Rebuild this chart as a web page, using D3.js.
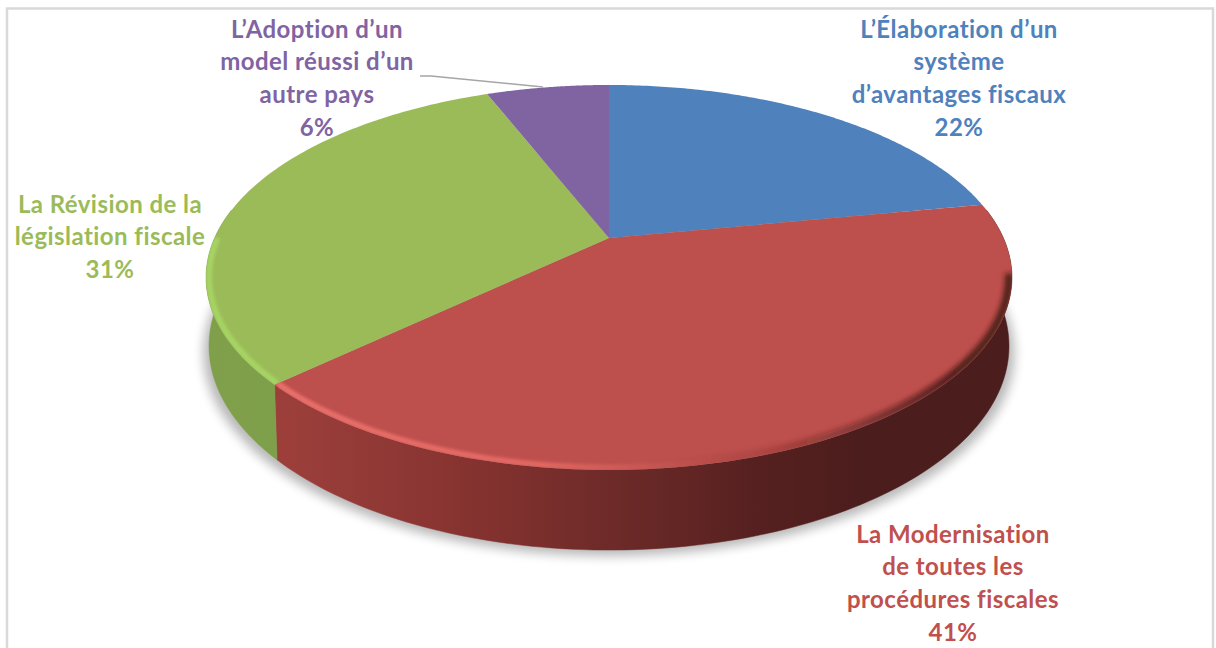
<!DOCTYPE html>
<html>
<head>
<meta charset="utf-8">
<script src="https://cdn.jsdelivr.net/npm/d3@7"></script>
<style>
html,body{margin:0;padding:0;background:#fff;overflow:hidden}
svg{display:block}
text{font-family:Lato,"Open Sans",sans-serif;font-weight:700;font-size:24px;letter-spacing:.45px;font-variant-ligatures:none;text-anchor:middle}
</style>
</head>
<body>
<svg id="chart" width="1216" height="648"></svg>
<script>
// Survey shares, clockwise from twelve o'clock
const categories = [
  ["L’Élaboration d’un", "système", "d’avantages fiscaux"],
  ["La Modernisation", "de toutes les", "procédures fiscales"],
  ["La Révision de la", "législation fiscale"],
  ["L’Adoption d’un", "model réussi d’un", "autre pays"]
];
const values = [22, 41, 31, 6];
const topColors = ["#4f81bd", "#bd4f4c", "#9bbb59", "#8064a2"];
const labelColors = ["#4f81bd", "#c0504d", "#9bbb59", "#8064a2"];
const labelCenters = [[959, 37.5], [953, 542.5], [110, 212.5], [317, 37.5]];

const svg = d3.select("#chart");
const defs = svg.append("defs");
const blur = (id, sd) => defs.append("filter").attr("id", id)
  .attr("x", "-10%").attr("y", "-10%").attr("width", "120%").attr("height", "120%")
  .append("feGaussianBlur").attr("stdDeviation", sd);
blur("soft", 1.6);
blur("softer", 2.6);
blur("castShadow", 5.5);

function hGradient(id, stops) {
  const g = defs.append("linearGradient").attr("id", id).attr("gradientUnits", "userSpaceOnUse")
    .attr("x1", 205).attr("x2", 1012).attr("y1", 0).attr("y2", 0);
  stops.forEach(([x, c, o]) => g.append("stop")
    .attr("offset", (x - 205) / 807).attr("stop-color", c).attr("stop-opacity", o === undefined ? 1 : o));
}
hGradient("wallRed", [[287, "#9c3f3b"], [480, "#84322f"], [620, "#6c2a28"], [760, "#562020"], [860, "#4b1d1c"], [1012, "#4b1d1c"]]);
hGradient("wallGreen", [[205, "#809f4c"], [293, "#7ea049"]]);
hGradient("bevelRedLit", [[287, "#e96f6a"], [540, "#e66a65", 0.9], [680, "#d0605c", 0.3], [760, "#bd4f4c", 0], [1012, "#bd4f4c", 0]]);
hGradient("bevelRedDark", [[640, "#3a1412", 0], [760, "#3a1412", 0.12], [860, "#3a1412", 0.45], [960, "#3a1412", 0.85], [1012, "#3a1412", 0.85]]);
hGradient("bevelGreen", [[205, "#a6d463"], [293, "#a6d463"]]);

// Perspective projection of the unit disc; t runs clockwise from the back of the pie
const cx = 609, tilt = -0.205;
const project = (radius, yMid, ySlope) => t => {
  const u = Math.sin(t), v = -Math.cos(t), w = 1 + tilt * v;
  return [cx + radius * u / w, (yMid + ySlope * v) / w];
};
const rim = project(394.4, 238, 135.6);
const base = project(391.5, 304.2, 133.1);
const rimInner = project(391.5, 238, 133.6);

const arcPoints = (fn, a, b) => d3.range(0, 121).map(i => fn(a + (b - a) * i / 120));
const line = d3.line();
const pie = d3.pie().sort(null).value(d => d);
const slices = pie(values);

// Soft cast shadow under the disc
svg.append("path")
  .attr("d", line(arcPoints(project(397, 311.4, 130.6), 0, 2 * Math.PI)) + "Z")
  .attr("fill", "#000").attr("opacity", 0.28).attr("filter", "url(#castShadow)");

// Outer walls: only the front part of the disc shows them
const wallFill = ["#4b1d1c", "url(#wallRed)", "url(#wallGreen)", "#6a5285"];
slices.forEach((s, i) => {
  const from = Math.max(s.startAngle, Math.PI * 0.45);
  const to = Math.min(s.endAngle, Math.PI * 1.55);
  if (to <= from) return;
  const pts = arcPoints(rim, from, to).concat(arcPoints(base, from, to).reverse());
  svg.append("path").attr("d", line(pts) + "Z").attr("fill", wallFill[i])
    .attr("stroke", wallFill[i]).attr("stroke-width", 0.5);
});

// Top face, with a clip per slice so the bevel stays inside its wedge
slices.forEach((s, i) => {
  const pts = [[cx, 238]].concat(arcPoints(rim, s.startAngle, s.endAngle));
  const d = line(pts) + "Z";
  defs.append("clipPath").attr("id", "slice" + i).append("path").attr("d", d);
  svg.append("path").attr("d", d).attr("fill", topColors[i]);
});

// Lit or shaded bevel along the front rim
[
  [1, "url(#bevelRedLit)", 0, 6, "soft"],
  [1, "url(#bevelRedDark)", Math.PI * 0.56, 8, "softer"],
  [2, "url(#bevelGreen)", 0, 6, "soft"]
].forEach(([i, stroke, minAngle, width, filter]) => {
  const s = slices[i];
  const to = Math.min(s.endAngle, Math.PI * 1.5);
  svg.append("g").attr("clip-path", `url(#slice${i})`)
    .append("path")
    .attr("d", line(arcPoints(rimInner, Math.max(s.startAngle, minAngle), to)))
    .attr("fill", "none").attr("stroke", stroke).attr("stroke-width", width).attr("filter", `url(#${filter})`);
});

// Frame around the chart area
svg.append("path").attr("d", "M7,660V8.5H1213V660").attr("fill", "none").attr("stroke", "#d9d9d9").attr("stroke-width", 2.5);

// Leader line for the smallest slice
svg.append("path").attr("d", line([[420, 76], [431, 76], [543, 87]]))
  .attr("fill", "none").attr("stroke", "#a6a6a6").attr("stroke-width", 1.4);

// Data labels: wrapped category name, then the share
const labels = svg.append("g");
slices.forEach((s, i) => {
  const [x, y] = labelCenters[i];
  const rows = categories[i].concat(values[i] + "%");
  rows.forEach((row, k) => {
    labels.append("text").attr("x", x).attr("y", y + k * 32.8).attr("fill", labelColors[i]).text(row);
  });
});
</script>
</body>
</html>
